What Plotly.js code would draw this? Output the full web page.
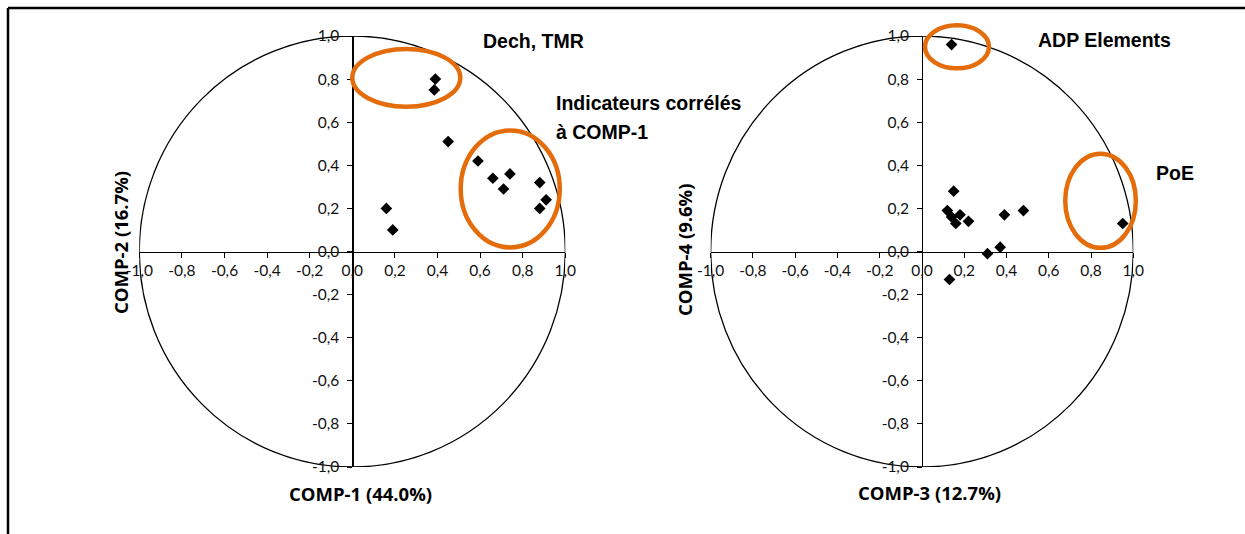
<!DOCTYPE html>
<html>
<head>
<meta charset="utf-8">
<script src="https://cdn.plot.ly/plotly-3.0.1.min.js"></script>
<style>html,body{margin:0;padding:0;background:#fff;}#chart{width:1245px;height:534px;}</style>
</head>
<body>
<div id="chart"></div>
<script>
// ---- data ----
const comp1 = [0.39, 0.385, 0.45, 0.59, 0.66, 0.74, 0.71, 0.88, 0.91, 0.88, 0.16, 0.19];
const comp2 = [0.80, 0.75, 0.51, 0.42, 0.34, 0.36, 0.29, 0.32, 0.24, 0.20, 0.20, 0.10];
const comp3 = [0.14, 0.15, 0.12, 0.14, 0.16, 0.18, 0.22, 0.39, 0.48, 0.31, 0.37, 0.95, 0.13];
const comp4 = [0.96, 0.28, 0.19, 0.16, 0.13, 0.17, 0.14, 0.17, 0.19, -0.01, 0.02, 0.13, -0.13];
const tickVals = [-1, -0.8, -0.6, -0.4, -0.2, 0, 0.2, 0.4, 0.6, 0.8, 1];
const tickText = ['-1,0', '-0,8', '-0,6', '-0,4', '-0,2', '0,0', '0,2', '0,4', '0,6', '0,8', '1,0'];
const axisTitles = ['COMP-1 (44.0%)', 'COMP-2 (16.7%)', 'COMP-3 (12.7%)', 'COMP-4 (9.6%)'];
const notes = ['Dech, TMR', 'Indicateurs corrélés', 'à COMP-1', 'ADP Elements', 'PoE'];

// ---- layout helpers ----
const W = 1245, H = 534;
const px = v => v / W;
const py = v => 1 - v / H;
const yDom = [py(467), py(36)];
const xDom1 = [px(139.3), px(565.3)];
const xDom2 = [px(710.7), px(1133.3)];
const mid = d => (d[0] + d[1]) / 2;
const tickFont = {family: 'Lato, sans-serif', size: 15.5, color: '#111'};
const orange = 'rgb(228,108,10)';

function xa(dom, ypos) {
  return {domain: dom, range: [-1, 1], anchor: 'free', position: ypos,
    showline: true, linecolor: '#000', linewidth: 1.3, ticks: 'outside', ticklen: 5, tickcolor: '#000',
    tickvals: tickVals, ticktext: tickText, tickfont: tickFont, showgrid: false, zeroline: false,
    fixedrange: true};
}
function ya(dom, xpos) {
  return {domain: dom, range: [-1, 1], anchor: 'free', position: xpos,
    showline: true, linecolor: '#000', linewidth: 1.3, ticks: 'outside', ticklen: 5, tickcolor: '#000',
    tickvals: tickVals, ticktext: tickText, tickfont: tickFont, showgrid: false, zeroline: false,
    ticklabelstandoff: 5, fixedrange: true};
}

const marker = {symbol: 'diamond', size: 9, color: '#000'};
const data = [
  {x: comp1, y: comp2, type: 'scatter', mode: 'markers', marker: marker, xaxis: 'x', yaxis: 'y', cliponaxis: false, hoverinfo: 'skip'},
  {x: comp3, y: comp4, type: 'scatter', mode: 'markers', marker: marker, xaxis: 'x2', yaxis: 'y2', cliponaxis: false, hoverinfo: 'skip'}
];

// ellipse highlight given in data units of a subplot, converted to paper so it is not clipped
function ell(xd, x0, x1, y0, y1) {
  const fx = v => xd[0] + (v + 1) / 2 * (xd[1] - xd[0]);
  const fy = v => yDom[0] + (v + 1) / 2 * (yDom[1] - yDom[0]);
  return {type: 'circle', xref: 'paper', yref: 'paper', x0: fx(x0), x1: fx(x1), y0: fy(y0), y1: fy(y1),
    line: {color: orange, width: 4.5}, fillcolor: 'rgba(0,0,0,0)', layer: 'above'};
}
const shapes = [
  {type: 'circle', xref: 'x', yref: 'y', x0: -1, x1: 1, y0: -1, y1: 1, line: {color: '#000', width: 1.3}, layer: 'below'},
  {type: 'circle', xref: 'x2', yref: 'y2', x0: -1, x1: 1, y0: -1, y1: 1, line: {color: '#000', width: 1.3}, layer: 'below'},
  ell(xDom1, 0.0, 0.507, 0.672, 0.94),
  ell(xDom1, 0.509, 0.974, 0.019, 0.562),
  ell(xDom2, 0.014, 0.317, 0.85, 1.05),
  ell(xDom2, 0.678, 1.012, 0.017, 0.454),
  // frame
  {type: 'line', xref: 'paper', yref: 'paper', x0: px(8), x1: 1, y0: py(8), y1: py(8), line: {color: '#000', width: 2.5}},
  {type: 'line', xref: 'paper', yref: 'paper', x0: px(8), x1: px(8), y0: 0, y1: py(8), line: {color: '#000', width: 2.5}}
];

const noteFont = {family: '"Liberation Sans", Arial, sans-serif', size: 19.5, color: '#000'};
const titleFont = {family: '"Open Sans", sans-serif', size: 18.5, color: '#000'};
function ann(text, x, y, xanchor, font, angle) {
  return {text: text, xref: 'paper', yref: 'paper', x: px(x), y: py(y), xanchor: xanchor, yanchor: 'middle',
    showarrow: false, font: font, textangle: angle || 0};
}
const annotations = [
  ann('<b>' + notes[0] + '</b>', 481, 41, 'left', noteFont),
  ann('<b>' + notes[1] + '</b>', 554, 103, 'left', noteFont),
  ann('<b>' + notes[2] + '</b>', 554, 132, 'left', noteFont),
  ann('<b>' + notes[3] + '</b>', 1036, 40, 'left', noteFont),
  ann('<b>' + notes[4] + '</b>', 1154, 173, 'left', noteFont),
  ann('<b>' + axisTitles[0] + '</b>', 360, 493, 'center', titleFont),
  ann('<b>' + axisTitles[2] + '</b>', 929, 492, 'center', titleFont),
  ann('<b>' + axisTitles[1] + '</b>', 120, 243, 'center', titleFont, -90),
  ann('<b>' + axisTitles[3] + '</b>', 684, 250, 'center', titleFont, -90)
];

const layout = {
  width: W, height: H, margin: {l: 0, r: 0, t: 0, b: 0},
  paper_bgcolor: '#fff', plot_bgcolor: 'rgba(0,0,0,0)',
  showlegend: false, hovermode: false,
  xaxis: xa(xDom1, mid(yDom)), yaxis: ya(yDom, mid(xDom1)),
  xaxis2: xa(xDom2, mid(yDom)), yaxis2: ya(yDom, mid(xDom2)),
  shapes: shapes, annotations: annotations
};
Plotly.newPlot('chart', data, layout, {displayModeBar: false, staticPlot: true});
</script>
</body>
</html>
